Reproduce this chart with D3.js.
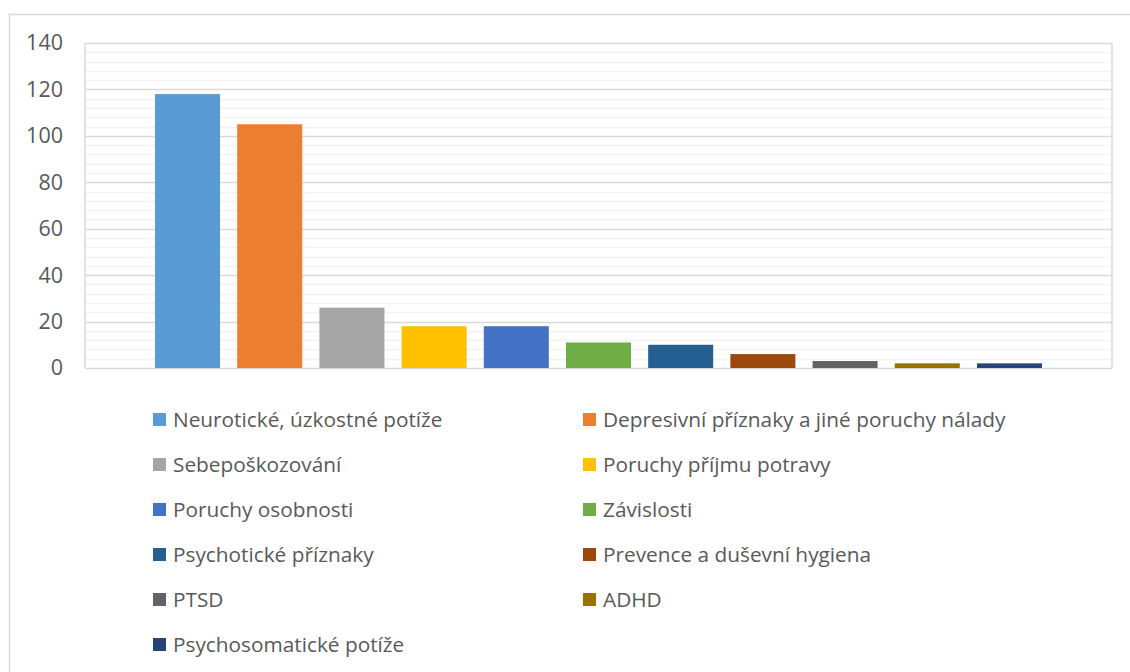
<!DOCTYPE html>
<html lang="cs">
<head>
<meta charset="utf-8">
<script src="https://d3js.org/d3.v7.min.js"></script>
<style>
  *{margin:0;padding:0}
  body{width:1130px;height:672px;background:#fff;overflow:hidden}
  svg{display:block;font-family:"Open Sans","Liberation Sans",sans-serif}
  .tick text{fill:#595959;font-size:21.5px;font-family:"Open Sans","Liberation Sans",sans-serif}
  .legend text{fill:#595959;font-size:20.8px}
</style>
</head>
<body>
<script>
// categories and counts
const categories = [
  'Neurotické, úzkostné potíže',
  'Depresivní příznaky a jiné poruchy nálady',
  'Sebepoškozování',
  'Poruchy příjmu potravy',
  'Poruchy osobnosti',
  'Závislosti',
  'Psychotické příznaky',
  'Prevence a duševní hygiena',
  'PTSD',
  'ADHD',
  'Psychosomatické potíže'
];
const values = [118, 105, 26, 18, 18, 11, 10, 6, 3, 2, 2];
const colors = ['#5B9BD5','#ED7D31','#A5A5A5','#FFC000','#4472C4','#70AD47','#255E91','#9E480E','#636363','#997300','#264478'];
const yTicks = [0, 20, 40, 60, 80, 100, 120, 140];

const W = 1130, H = 672;
const plot = {left: 85, right: 1112, top: 43, bottom: 368};

const svg = d3.select('body').append('svg').attr('width', W).attr('height', H);

// outer chart border
svg.append('path')
   .attr('d', `M9.5,${H} V14.5 H${W}`)
   .attr('fill', 'none').attr('stroke', '#d9d9d9').attr('stroke-width', 1.5);

const x = d3.scaleBand().domain(categories)
            .range([plot.left, plot.right])
            .paddingInner(0.209).paddingOuter(0.852);
const y = d3.scaleLinear().domain([0, 140]).range([plot.bottom, plot.top]);

// minor gridlines every 4
svg.append('g').selectAll('line')
   .data(d3.range(0, 141, 4).filter(v => v % 20 !== 0))
   .join('line')
   .attr('x1', plot.left).attr('x2', plot.right)
   .attr('y1', d => Math.round(y(d)) + 0.5).attr('y2', d => Math.round(y(d)) + 0.5)
   .attr('stroke', '#f2f2f2').attr('stroke-width', 1.5);

// major gridlines
svg.append('g').selectAll('line')
   .data(yTicks)
   .join('line')
   .attr('x1', plot.left).attr('x2', plot.right)
   .attr('y1', d => Math.round(y(d)) + 0.5).attr('y2', d => Math.round(y(d)) + 0.5)
   .attr('stroke', '#d9d9d9').attr('stroke-width', 1.5);

// plot area verticals
svg.append('g').selectAll('line')
   .data([plot.left, plot.right])
   .join('line')
   .attr('x1', d => d).attr('x2', d => d)
   .attr('y1', plot.top).attr('y2', plot.bottom)
   .attr('stroke', '#d9d9d9').attr('stroke-width', 1.5);

// y axis labels
const yAxis = svg.append('g')
   .attr('transform', `translate(${plot.left},0)`)
   .call(d3.axisLeft(y).tickValues(yTicks).tickSize(0).tickPadding(22));
yAxis.select('.domain').remove();

// bars
svg.append('g').selectAll('rect')
   .data(values)
   .join('rect')
   .attr('x', (d, i) => x(categories[i]))
   .attr('width', x.bandwidth())
   .attr('y', d => y(d))
   .attr('height', d => y(0) - y(d))
   .attr('fill', (d, i) => colors[i]);

// legend, two columns
const legend = svg.append('g').attr('class', 'legend');
const colX = [153, 583], rowY0 = 419.5, rowH = 45;
const item = legend.selectAll('g')
   .data(categories)
   .join('g')
   .attr('transform', (d, i) => `translate(${colX[i % 2]},${rowY0 + Math.floor(i / 2) * rowH})`);
item.append('rect')
   .attr('x', 0).attr('y', -6.5).attr('width', 13).attr('height', 13)
   .attr('fill', (d, i) => colors[i]);
item.append('text')
   .attr('x', 20).attr('dy', '0.35em')
   .text(d => d);
</script>
</body>
</html>
